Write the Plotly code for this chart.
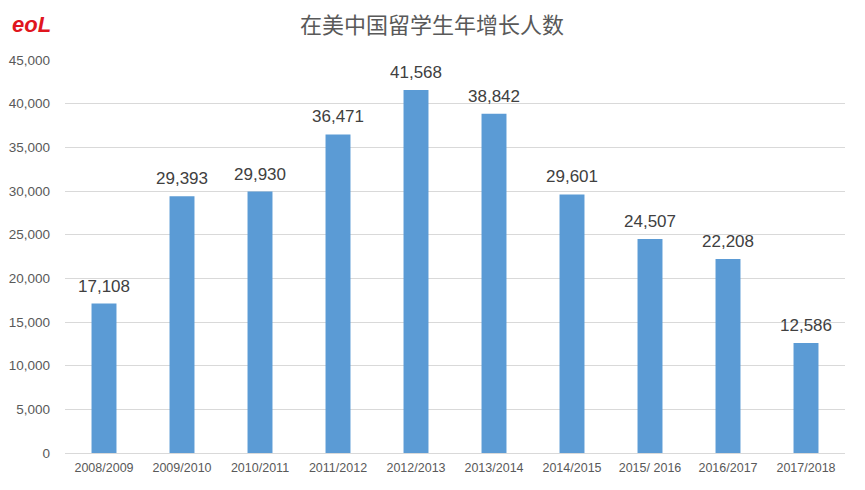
import plotly.graph_objects as go

categories = ["2008/2009", "2009/2010", "2010/2011", "2011/2012", "2012/2013",
              "2013/2014", "2014/2015", "2015/ 2016", "2016/2017", "2017/2018"]
values = [17108, 29393, 29930, 36471, 41568, 38842, 29601, 24507, 22208, 12586]
y_ticks = [0, 5000, 10000, 15000, 20000, 25000, 30000, 35000, 40000, 45000]
title_text = "在美中国留学生年增长人数"

W, H = 857, 482

fig = go.Figure(go.Bar(
    x=categories, y=values,
    marker=dict(color="#5B9BD5", line=dict(width=0)),
))

for c, v in zip(categories, values):
    fig.add_annotation(
        x=c, y=v, xref="x", yref="y", text=f"{v:,}", showarrow=False,
        yanchor="bottom", yshift=6,
        font=dict(size=17, color="#404040", family="Liberation Sans, Arial"),
    )

fig.update_layout(
    width=W, height=H,
    margin=dict(l=57, r=20, t=52, b=37),
    paper_bgcolor="white", plot_bgcolor="white",
    bargap=0.68,
    showlegend=False,
    title=dict(text=title_text, x=424 / W, xanchor="center", y=1 - 17 / H, yanchor="middle",
               font=dict(size=22, color="#595959", family="Noto Sans CJK SC")),
    font=dict(family="Liberation Sans, Arial", color="#595959"),
)
fig.update_xaxes(
    type="category", showgrid=False, showline=True, linecolor="#d9d9d9", linewidth=1,
    ticks="", tickfont=dict(size=12.5, color="#595959"), tickangle=0,
    ticklabelstandoff=3, automargin=False,
)
fig.update_yaxes(
    range=[0, 45000], tickvals=y_ticks, ticktext=[f"{v:,}" for v in y_ticks],
    showgrid=True, gridcolor="#d9d9d9", gridwidth=1, zeroline=False,
    showline=False, ticks="", ticklabelstandoff=14, automargin=False,
    tickfont=dict(size=13.5, color="#595959"),
)

# EOL logo text
fig.add_annotation(
    xref="paper", yref="paper", x=0.0, y=1.0, xanchor="left", yanchor="top",
    xshift=-55, yshift=50,
    text="<b><i>eoL</i></b>", showarrow=False,
    font=dict(size=22, color="#e0161e", family="Liberation Sans"),
)

fig.write_html("out.html")
